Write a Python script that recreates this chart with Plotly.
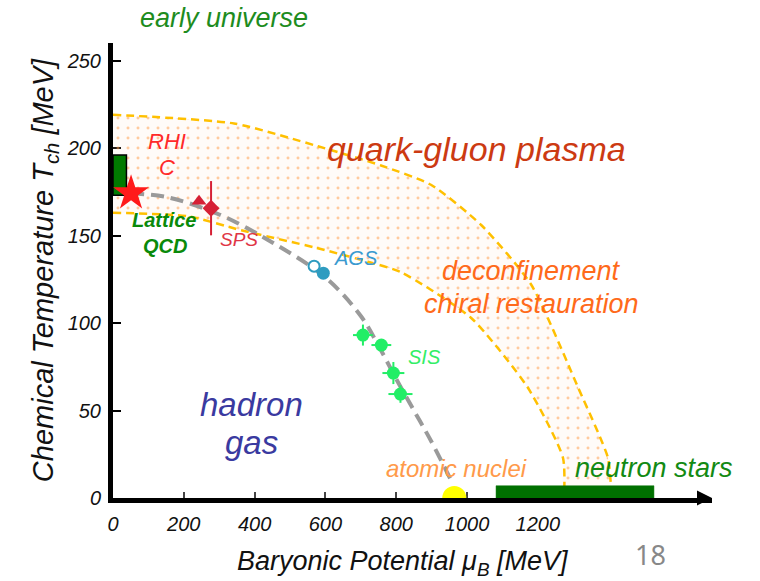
import plotly.graph_objects as go

# ---- data (mu_B in MeV, T_ch in MeV) ----
# crossover band: outer and inner dashed boundaries
band_outer_mu = [0, 342, 579, 757, 898, 1040, 1181, 1314, 1398, 1407, 1410]
band_outer_T = [219, 214, 201, 190, 179, 156, 122, 63, 23, 6, 0]
band_inner_mu = [0, 212, 362, 573, 720, 814, 1011, 1172, 1271, 1274]
band_inner_T = [163, 161, 153, 143, 135, 129, 103, 63, 23, 0]

# chemical freeze-out curve
freeze_mu = [51, 150, 300, 450, 600, 700, 750, 800, 850, 900, 960]
freeze_T = [174, 172, 162, 146, 126, 104, 87, 68, 50, 32, 8]

# experiments
rhic_mu, rhic_T = [51], [174.2]
sps_tri_mu, sps_tri_T = [243], [169.6]
sps_dia_mu, sps_dia_T, sps_dia_err = [277], [165.6], [15.5]
ags_open_mu, ags_open_T = [568], [132.5]
ags_mu, ags_T = [594], [128.5]
sis_mu = [706, 758, 792, 812]
sis_T = [93.1, 87.4, 71.4, 59.4]
sis_err_mu = [28, 28, 31, 34]
sis_err_T = [6, 0, 6.3, 5]
nuclei_mu, nuclei_T = [964], [0]

# lattice QCD band and neutron star region
lattice_mu = [0, 38]
lattice_T = [173, 196]
nstar_mu = [1082, 1528]
nstar_T = [0, 7]

# axes
x_range = [0, 1692]
y_range = [0, 260]
x_ticks = [0, 200, 400, 600, 800, 1000, 1200]
y_ticks = [0, 50, 100, 150, 200, 250]

FONT = "Liberation Sans, Arial, sans-serif"

fig = go.Figure()

# dotted crossover band
fig.add_trace(go.Scatter(
    x=band_outer_mu + band_inner_mu[::-1],
    y=band_outer_T + band_inner_T[::-1],
    mode="lines", line=dict(width=0, shape="spline", smoothing=0.6),
    fill="toself", fillcolor="rgba(255,255,255,0)",
    fillpattern=dict(shape=".", size=10, solidity=0.07,
                     fgcolor="#FF9A45", bgcolor="rgba(255,225,200,0.12)"),
    hoverinfo="skip", showlegend=False))

for bx, by in ((band_outer_mu, band_outer_T), (band_inner_mu, band_inner_T)):
    fig.add_trace(go.Scatter(
        x=bx, y=by, mode="lines",
        line=dict(color="#FFC000", width=2.5, dash="8px,5px",
                  shape="spline", smoothing=0.6),
        hoverinfo="skip", showlegend=False))

# lattice QCD box
fig.add_trace(go.Scatter(
    x=[lattice_mu[0], lattice_mu[1], lattice_mu[1], lattice_mu[0], lattice_mu[0]],
    y=[lattice_T[0], lattice_T[0], lattice_T[1], lattice_T[1], lattice_T[0]],
    mode="lines", fill="toself", fillcolor="#007A00",
    line=dict(color="#000000", width=1.5), hoverinfo="skip", showlegend=False))

# neutron star bar
fig.add_trace(go.Scatter(
    x=[nstar_mu[0], nstar_mu[1], nstar_mu[1], nstar_mu[0], nstar_mu[0]],
    y=[nstar_T[0], nstar_T[0], nstar_T[1], nstar_T[1], nstar_T[0]],
    mode="lines", fill="toself", fillcolor="#007000",
    line=dict(color="#007000", width=0.5), hoverinfo="skip", showlegend=False))

# freeze-out curve
fig.add_trace(go.Scatter(
    x=freeze_mu, y=freeze_T, mode="lines",
    line=dict(color="#9A9A9A", width=4, dash="13px,7px", shape="spline"),
    hoverinfo="skip", showlegend=False))

# atomic nuclei (half hidden below the axis)
fig.add_trace(go.Scatter(
    x=nuclei_mu, y=nuclei_T, mode="markers",
    marker=dict(symbol="circle", size=24, color="#FFFF00", line=dict(width=0)),
    cliponaxis=True, hoverinfo="skip", showlegend=False))

# SPS
fig.add_trace(go.Scatter(
    x=sps_tri_mu, y=sps_tri_T, mode="markers",
    marker=dict(symbol="triangle-up", size=13, color="#D62035"),
    showlegend=False))
fig.add_trace(go.Scatter(
    x=sps_dia_mu, y=sps_dia_T, mode="markers",
    marker=dict(symbol="diamond", size=13, color="#D62035"),
    error_y=dict(type="data", array=sps_dia_err, color="#D62035",
                 thickness=2, width=0),
    showlegend=False))

# RHIC
fig.add_trace(go.Scatter(
    x=rhic_mu, y=rhic_T, mode="markers",
    marker=dict(symbol="star", size=27, color="#FF1A1A"),
    showlegend=False))

# AGS
fig.add_trace(go.Scatter(
    x=ags_open_mu, y=ags_open_T, mode="markers",
    marker=dict(symbol="circle", size=11, color="#FFFFFF",
                line=dict(color="#2E9CC0", width=2)),
    showlegend=False))
fig.add_trace(go.Scatter(
    x=ags_mu, y=ags_T, mode="markers",
    marker=dict(symbol="circle", size=13, color="#2E9CC0"),
    showlegend=False))

# SIS
fig.add_trace(go.Scatter(
    x=sis_mu, y=sis_T, mode="markers",
    marker=dict(symbol="circle", size=13, color="#22EE66"),
    error_x=dict(type="data", array=sis_err_mu, color="#22EE66", thickness=2, width=0),
    error_y=dict(type="data", array=sis_err_T, color="#22EE66", thickness=2, width=0),
    showlegend=False))

# arrowheads at the ends of both axes
fig.add_trace(go.Scatter(
    x=[x_range[0], x_range[1]], y=[y_range[1] + 0.5, y_range[0]],
    mode="markers", cliponaxis=False,
    marker=dict(symbol=["arrow-up", "arrow-right"], size=15, color="#000000",
                line=dict(width=0)),
    hoverinfo="skip", showlegend=False))


def label(text, x, y, color, size, weight="normal", style="italic",
          xref="x", yref="y", family=FONT):
    fig.add_annotation(text=text, x=x, y=y, xref=xref, yref=yref,
                       xanchor="center", yanchor="middle", showarrow=False,
                       font=dict(family=family, size=size, color=color,
                                 style=style, weight=weight))


label("early universe", 0.186, 1.054, "#1E8C1E", 27, xref="paper", yref="paper")
label("quark-gluon plasma", 1027, 199.4, "#CC3A12", 34)
label("RHI", 153, 204, "#FF2A2A", 22)
label("C", 153, 189, "#FF2A2A", 22)
label("Lattice", 145, 159, "#0A8A0A", 20, weight="bold")
label("QCD", 148, 144, "#0A8A0A", 20, weight="bold")
label("SPS", 355, 147.7, "#E03545", 19)
label("AGS", 686, 137, "#3A9AD0", 20)
label("SIS", 881, 80.6, "#33EE66", 20)
label("deconfinement", 1181, 130, "#FF6A1A", 27)
label("chiral restauration", 1181, 111, "#FF6A1A", 27)
label("hadron", 391, 53.7, "#3A3AA0", 33)
label("gas", 391, 32, "#3A3AA0", 33)
label("atomic nuclei", 969, 17, "#FF9A4A", 24)
label("neutron stars", 1527, 17, "#138A13", 27)
label("18", 0.898, -0.125, "#888888", 27, style="normal",
      xref="paper", yref="paper", family="Noto Sans, sans-serif")
# x-axis title
label("Baryonic Potential μ<sub>B</sub> [MeV]", 0.484, -0.142, "#111111", 27,
      xref="paper", yref="paper")

tickfont = dict(family=FONT, size=20, color="#111111", style="italic")

fig.update_xaxes(range=x_range, tickvals=x_ticks, ticks="inside", ticklen=6,
                 tickwidth=1.5, tickcolor="#444444", showgrid=False,
                 zeroline=False, showline=True, linewidth=5, linecolor="#000000",
                 tickfont=tickfont, ticklabelstandoff=4, automargin=False,
                 layer="below traces")
fig.update_yaxes(range=y_range, tickvals=y_ticks, ticks="inside", ticklen=8,
                 tickwidth=2, tickcolor="#000000", showgrid=False,
                 zeroline=False, showline=True, linewidth=5, linecolor="#000000",
                 tickfont=tickfont, ticklabelstandoff=3, automargin=False,
                 layer="below traces",
                 title=dict(text="Chemical Temperature T<sub>ch</sub> [MeV]",
                            font=dict(family=FONT, size=29, color="#111111",
                                      style="italic"),
                            standoff=6))

fig.update_layout(width=760, height=581,
                  margin=dict(l=113, r=48, t=43, b=83, autoexpand=False),
                  paper_bgcolor="white", plot_bgcolor="white",
                  showlegend=False)

fig.write_html("out.html")
